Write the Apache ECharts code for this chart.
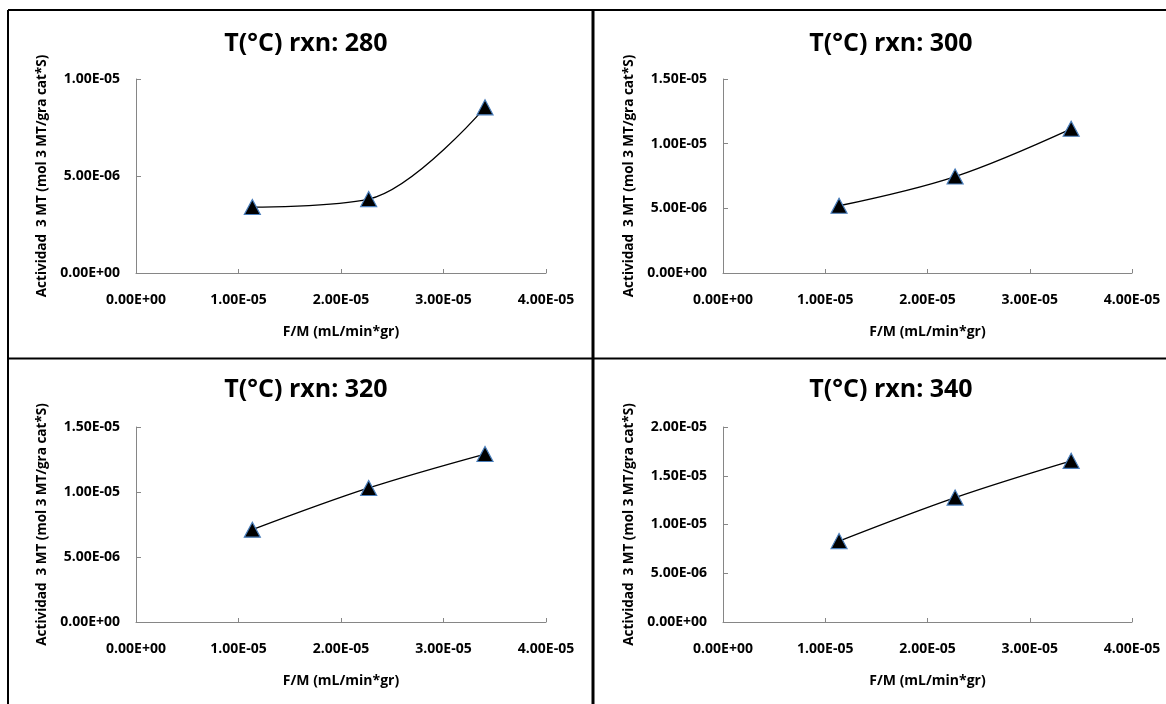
<!DOCTYPE html>
<html>
<head>
<meta charset="utf-8">
<script src="https://cdn.jsdelivr.net/npm/echarts@6/dist/echarts.min.js"></script>
<style>
html,body{margin:0;padding:0;background:#fff;}
#chart{width:1166px;height:704px;}
</style>
</head>
<body>
<div id="chart"></div>
<script>
// ---- data ----
var titles = ['T(°C) rxn: 280', 'T(°C) rxn: 300', 'T(°C) rxn: 320', 'T(°C) rxn: 340'];
var xValues = [1.135e-5, 2.27e-5, 3.405e-5];
var y280 = [3.40e-6, 3.81e-6, 8.54e-6];
var y300 = [5.20e-6, 7.46e-6, 1.115e-5];
var y320 = [7.10e-6, 1.031e-5, 1.292e-5];
var y340 = [8.30e-6, 1.276e-5, 1.653e-5];
var xTickLabels = ['0.00E+00', '1.00E-05', '2.00E-05', '3.00E-05', '4.00E-05'];
var yTickLabels280 = ['0.00E+00', '5.00E-06', '1.00E-05'];
var yTickLabels300 = ['0.00E+00', '5.00E-06', '1.00E-05', '1.50E-05'];
var yTickLabels320 = ['0.00E+00', '5.00E-06', '1.00E-05', '1.50E-05'];
var yTickLabels340 = ['0.00E+00', '5.00E-06', '1.00E-05', '1.50E-05', '2.00E-05'];
var xAxisName = 'F/M (mL/min*gr)';
var yAxisName = 'Actividad  3 MT (mol 3 MT/gra cat*S)';

var seriesY = [y280, y300, y320, y340];
var yTicks = [yTickLabels280, yTickLabels300, yTickLabels320, yTickLabels340];
var xInterval = 1e-5, yInterval = 5e-6;

var FONT = '"Open Sans", Lato, sans-serif';
var grids = [
  {left:136, top:79, width:410, height:194},
  {left:723, top:79, width:409, height:194},
  {left:136, top:427, width:410, height:195},
  {left:723, top:427, width:409, height:195}
];
var titleCenters = [[301, 26], [886, 26], [301, 372], [886, 372]];

var axisLine = {show:true, lineStyle:{color:'#868686', width:1}};
var option = {
  animation:false,
  backgroundColor:'#fff',
  title: titles.map(function(t,i){
    return {text:t, left:titleCenters[i][0], top:titleCenters[i][1], textAlign:'center',
      textStyle:{fontFamily:FONT, fontWeight:'bold', fontSize:25, color:'#000'}};
  }),
  grid: grids,
  xAxis: grids.map(function(g,i){
    return {type:'value', gridIndex:i, min:0, max:4e-5, interval:xInterval,
      name:xAxisName, nameLocation:'middle', nameGap:52,
      nameTextStyle:{fontFamily:FONT, fontWeight:'bold', fontSize:14, color:'#000'},
      axisLine:axisLine, axisTick:{show:true, inside:true, length:4, lineStyle:{color:'#868686'}},
      splitLine:{show:false},
      axisLabel:{margin:20, fontFamily:FONT, fontWeight:'bold', fontSize:14, color:'#000',
        formatter:function(v){return xTickLabels[Math.round(v/xInterval)];}}};
  }),
  yAxis: grids.map(function(g,i){
    var lbl = yTicks[i];
    return {type:'value', gridIndex:i, min:0, max:(lbl.length-1)*yInterval, interval:yInterval,
      name:yAxisName, nameLocation:'middle', nameGap:87, nameRotate:90,
      nameTextStyle:{fontFamily:FONT, fontWeight:'bold', fontSize:13.5, color:'#000'},
      axisLine:axisLine, axisTick:{show:true, inside:true, length:5, lineStyle:{color:'#868686'}},
      splitLine:{show:false},
      axisLabel:{margin:16, fontFamily:FONT, fontWeight:'bold', fontSize:14, color:'#000',
        formatter:function(v){return lbl[Math.round(v/yInterval)];}}};
  }),
  series: seriesY.map(function(ys,i){
    return {type:'line', xAxisIndex:i, yAxisIndex:i, smooth:0.35,
      data: xValues.map(function(x,k){return [x, ys[k]];}),
      symbol:'triangle', symbolSize:[16,15],
      lineStyle:{color:'#000', width:1.3},
      itemStyle:{color:'#000', borderColor:'#4a7ebb', borderWidth:1.2}};
  }),
  graphic: [
    {type:'line', shape:{x1:8, y1:10, x2:1166, y2:10}, style:{stroke:'#000', lineWidth:2}},
    {type:'line', shape:{x1:8, y1:10, x2:8, y2:704}, style:{stroke:'#000', lineWidth:2}},
    {type:'line', shape:{x1:593, y1:10, x2:593, y2:704}, style:{stroke:'#000', lineWidth:3}},
    {type:'line', shape:{x1:8, y1:358.5, x2:1166, y2:358.5}, style:{stroke:'#000', lineWidth:2}}
  ]
};
var chart = echarts.init(document.getElementById('chart'), null, {renderer:'canvas'});
chart.setOption(option);
</script>
</body>
</html>
